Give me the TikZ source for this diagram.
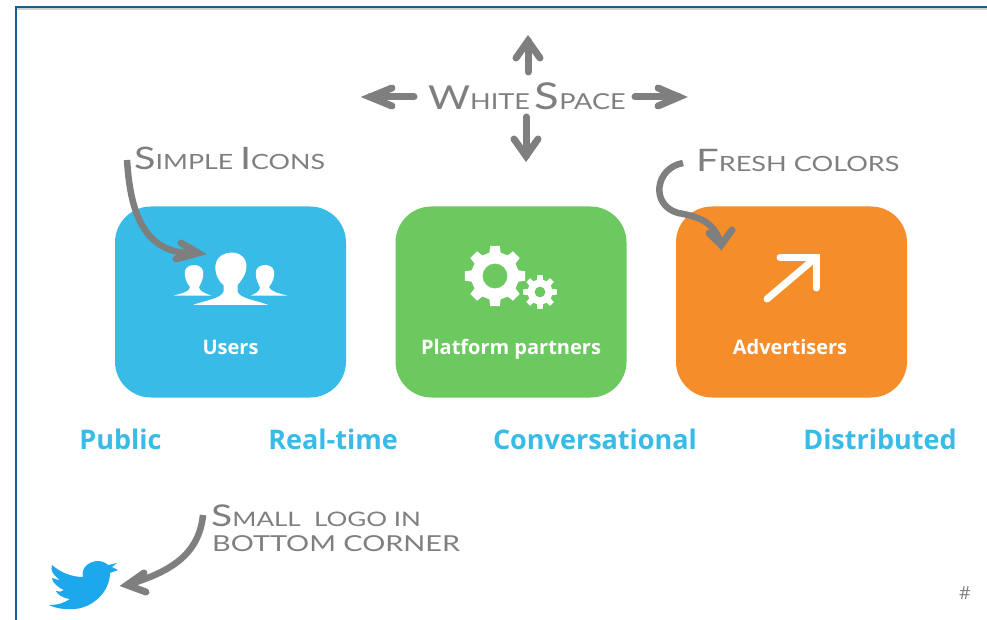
\documentclass[tikz,border=0pt]{standalone}
\usepackage{graphicx}
\usepackage{fontspec}
\setmainfont{Open Sans}
\newfontfamily\hand{Lato}
\definecolor{frameblue}{HTML}{1B5C8E}
\definecolor{cblue}{HTML}{38BBE6}
\definecolor{cgreen}{HTML}{6CC95F}
\definecolor{corange}{HTML}{F68D2B}
\definecolor{cgray}{HTML}{7F7F7F}
\definecolor{tweet}{HTML}{1DA8EC}
\tikzset{
  tile/.style={rounded corners=36pt,minimum width=231pt,minimum height=191pt,inner sep=0pt,draw=none},
  tilelabel/.style={text=white,font=\fontsize{20}{24}\selectfont\bfseries,inner sep=0pt,anchor=base},
  keyword/.style={text=cblue,font=\fontsize{27}{30}\selectfont\bfseries,inner sep=0pt,anchor=base},
  note/.style={text=cgray,font=\hand,inner sep=0pt,anchor=west,align=left},
  sk/.style={draw=cgray,line width=7pt,line cap=round,line join=miter},
  skt/.style={draw=cgray,line width=6.5pt,line cap=butt,line join=round}
}
\newcommand{\hs}[1]{\fontsize{#1}{#1}\selectfont}
\begin{document}
\begin{tikzpicture}[x=1pt,y=-1pt]
\useasboundingbox (0,0) rectangle (987,620);
\fill[white] (0,0) rectangle (987,620);
\draw[black!18,line width=1.5pt] (17,9.2) -- (987,9.2);
\draw[frameblue,line width=2.5pt] (16,620) -- (16,7) -- (987,7);
% tiles
\node[tile,fill=cblue] (users) at (230.5,302) {};
\node[tile,fill=cgreen] (platform) at (511,302) {};
\node[tile,fill=corange] (adv) at (791.5,302) {};
\node[tilelabel] (lusers) at (230.5,354) {Users};
\node[tilelabel] (lplat) at (511,354) {Platform partners};
\node[tilelabel] (ladv) at (790,354) {Advertisers};
% users icon
\fill[white] (174,295.5) .. controls (184,293) and (190,291) .. (190,287) .. controls (186,282) and (184,276) .. (185,271) .. controls (187,263) and (201,263) .. (203,271) .. controls (204,276) and (202,282) .. (199,287) .. controls (199,291) and (204,293) .. (211,295.5) -- cycle;
\fill[white] (287,295.5) .. controls (277,293) and (270,291) .. (269,287) .. controls (273,282) and (275,276) .. (274,271) .. controls (272,263) and (258,263) .. (256,271) .. controls (255,276) and (257,282) .. (260,287) .. controls (260,291) and (257,293) .. (251,295.5) -- cycle;
\path[fill=white,draw=cblue,line width=3pt] (192,306.5) -- (192,303.5) .. controls (205,299) and (220,297) .. (222,291) -- (222,286) .. controls (216,281) and (213,272) .. (214,265) .. controls (215,255) and (224,251) .. (232,251) .. controls (241,251) and (248,257) .. (248,266) .. controls (248,275) and (243,281) .. (239,286) -- (239,291) .. controls (241,297) and (257,299) .. (269,303.5) -- (269,306.5) -- cycle;
% gears
\fill[cgreen] (540,292) circle (20);
\foreach \cx/\cy/\ro/\ri/\h/\n in {495/276/30.5/24/12.5/8,540/292/17/12.5/5.5/8}{
  \pgfmathsetmacro{\st}{360/\n}
  \fill[white,even odd rule]
    (\cx,\cy) +(0:0)
    \foreach \k in {1,...,\n}{
      \pgfextra{\pgfmathsetmacro{\a}{(\k-1)*\st}}
      \ifnum\k=1 +(\a-\st*0.30:\ri) \else -- +(\a-\st*0.30:\ri) \fi
      -- +(\a-\st*0.20:\ro) -- +(\a+\st*0.20:\ro) -- +(\a+\st*0.30:\ri)
    } -- cycle
    (\cx,\cy) circle (\h);
}
% arrow icon
\draw[white,line width=7pt,line cap=round] (767,299) -- (813,260);
\draw[white,line width=7pt,line cap=round,line join=miter] (780,257.5) -- (816,257.5) -- (816,288);
% keywords
\node[keyword] (k1) at (120.5,449) {Public};
\node[keyword] (k2) at (333,449) {Real-time};
\node[keyword] (k3) at (595,449) {Conversational};
\node[keyword] (k4) at (880,449) {Distributed};
% handwritten notes
\node[note] (ws) at (428,96) {\scalebox{1.23}[1]{\hs{33}W\hs{22}HITE\,\hs{37}S\hs{22}PACE}};
\node[note] (si) at (134,158) {\scalebox{1.275}[1]{\hs{31}S\hs{21}IMPLE \hs{31}I\hs{21}CONS}};
\node[note] (fc) at (696,160) {\scalebox{1.29}[1]{\hs{31}F\hs{21}RESH COLORS}};
\node[note] (sl) at (211,516) {\scalebox{1.3}[1]{\hs{30}S\hs{20}MALL\ \ LOGO IN}};
\node[note] (sl2) at (212,544) {\scalebox{1.31}[1]{\hs{22}BOTTOM CORNER}};
% white space arrows
\coordinate (wsup) at (528,72);
\coordinate (wsupt) at (528,41);
\coordinate (wsdn) at (526,117);
\coordinate (wsdnt) at (526,156);
\coordinate (wsl) at (414,97);
\coordinate (wslt) at (370,97);
\coordinate (wsr) at (635,97);
\coordinate (wsrt) at (679,97);
\draw[sk] (wsup) -- (wsupt);
\draw[sk] (516,58) -- (wsupt) -- (540,58);
\draw[sk] (wsdn) -- (wsdnt);
\draw[sk] (514,139) -- (wsdnt) -- (538,139);
\draw[sk] (wsl) -- (wslt);
\draw[sk] (392,88) -- (wslt) -- (392,106);
\draw[sk] (wsr) -- (wsrt);
\draw[sk] (658,88) -- (wsrt) -- (658,106);
% annotation arrows
\coordinate (a1s) at (127,160);
\coordinate (a1e) at (198,253);
\draw[skt] (a1s) .. controls (130,205) and (140,257) .. (a1e);
\draw[sk] (181,243) -- (a1e) -- (176,259);
\coordinate (a2s) at (683,163);
\coordinate (a2e) at (721,245);
\draw[skt] (a2s) .. controls (655,168) and (650,205) .. (678,213) .. controls (703,217) and (716,225) .. (a2e);
\draw[sk] (709,233) -- (a2e) -- (732,230);
\coordinate (a3s) at (203,515);
\coordinate (a3e) at (127,585);
\draw[skt] (a3s) .. controls (199,555) and (170,572) .. (a3e);
\draw[sk] (144,573) -- (a3e) -- (146,592);
% bird
\fill[tweet] (118,570) -- (110,573) .. controls (110,590) and (95,607) .. (75,609) .. controls (65,610) and (55,608) .. (49,605) .. controls (58,605) and (64,603) .. (70,599) .. controls (62,598) and (57,594) .. (56,591) .. controls (59,592) and (62,592) .. (64,590) .. controls (57,587) and (52,582) .. (52,578) .. controls (55,579) and (58,580) .. (60,580) .. controls (53,575) and (50,570) .. (52,565) .. controls (60,572) and (71,577) .. (83,577) .. controls (81,568) and (88,562) .. (97,561) .. controls (101,561) and (105,562) .. (108,565) -- (117,563) -- (112,567) -- cycle;
% slide number
\node[text=cgray,font=\fontsize{18}{18}\selectfont,inner sep=0pt] (num) at (965,593) {\#};
\end{tikzpicture}
\end{document}
